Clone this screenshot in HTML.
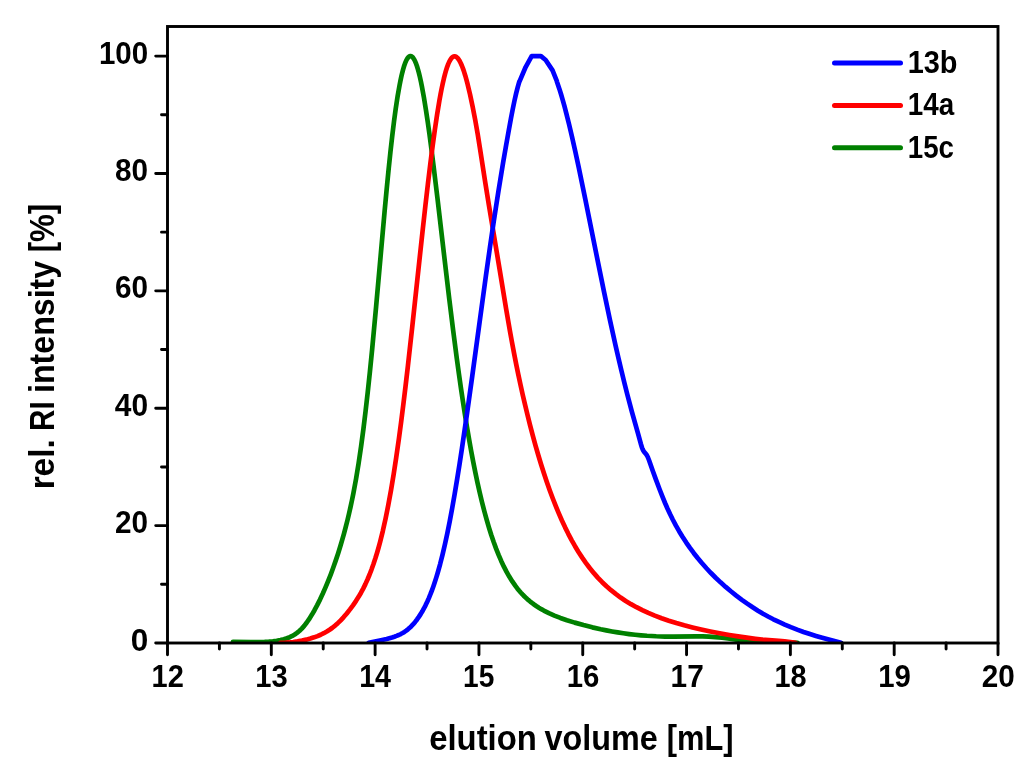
<!DOCTYPE html>
<html lang="en"><head><meta charset="utf-8"><title>GPC elution chart</title>
<style>html,body{margin:0;padding:0;background:#fff}body{width:1024px;height:771px;overflow:hidden}svg{display:block}</style></head>
<body>
<svg width="1024" height="771" viewBox="0 0 1024 771">
<rect width="1024" height="771" fill="#fff"/>
<defs><clipPath id="c"><rect x="167.5" y="26.5" width="830.5" height="616.5"/></clipPath></defs>
<g clip-path="url(#c)" fill="none" stroke-width="4.7" stroke-linejoin="round" stroke-linecap="round">
<path stroke="#008000" d="M233.00 641.80L250.90 642.17L255.80 642.19L260.10 642.14L264.70 641.96L268.90 641.68L272.90 641.28L276.70 640.74L280.40 640.05L283.80 639.23L286.90 638.27L289.70 637.19L292.30 635.94L294.70 634.53L297.00 632.92L299.30 631.02L301.80 628.59L304.20 625.87L306.60 622.77L309.10 619.15L311.80 614.86L314.50 610.20L317.20 605.17L320.00 599.58L322.70 593.81L325.40 587.67L328.10 581.16L330.70 574.52L333.20 567.77L335.70 560.64L338.10 553.39L340.40 546.03L342.20 539.95L344.00 533.55L345.70 527.18L347.40 520.46L349.00 513.77L350.50 507.14L352.00 500.12L353.40 493.18L356.10 478.59L358.60 463.39L361.10 446.40L363.50 428.32L365.60 411.09L367.70 392.54L369.90 371.75L372.10 349.69L376.10 306.83L384.50 212.43L386.60 189.95L388.50 170.55L390.40 152.27L392.20 136.19L394.00 121.48L395.70 108.94L397.60 96.47L399.50 85.60L400.50 80.52L401.40 76.34L402.30 72.55L403.20 69.13L404.20 65.80L405.10 63.22L406.00 61.03L406.90 59.24L407.80 57.85L408.70 56.87L409.10 56.56L409.60 56.28L410.00 56.15L410.50 56.09L410.90 56.14L411.40 56.30L411.80 56.52L412.30 56.91L413.20 57.90L414.20 59.46L415.10 61.27L416.10 63.71L417.00 66.30L418.00 69.59L418.90 72.93L419.90 77.04L420.90 81.56L421.90 86.47L423.90 97.38L426.00 110.28L427.70 121.66L429.50 134.51L431.40 148.84L433.50 165.43L437.40 197.75L445.60 268.06L449.30 299.20L453.20 330.78L456.80 358.43L458.90 373.78L460.90 387.83L463.00 401.97L465.00 414.85L467.00 427.16L469.10 439.48L471.10 450.64L473.20 461.76L475.30 472.29L477.50 482.70L479.70 492.51L481.90 501.72L484.20 510.74L486.50 519.17L488.80 527.04L491.20 534.68L493.60 541.76L496.10 548.59L498.60 554.89L501.20 560.92L503.90 566.65L506.60 571.88L509.40 576.82L512.30 581.46L515.60 586.19L517.30 588.42L519.00 590.51L520.70 592.48L522.50 594.44L524.30 596.27L526.20 598.09L528.20 599.88L530.20 601.55L532.30 603.20L534.40 604.73L536.60 606.24L538.90 607.72L541.30 609.16L543.80 610.55L548.90 613.14L554.40 615.58L560.40 617.93L566.90 620.20L574.70 622.62L583.50 625.09L592.30 627.34L600.70 629.27L606.30 630.42L612.00 631.49L617.70 632.44L623.40 633.30L629.20 634.06L635.10 634.72L641.00 635.29L647.00 635.76L656.20 636.27L665.20 636.53L673.60 636.56L696.00 636.37L702.70 636.45L708.80 636.67L715.50 637.09L722.10 637.72L727.90 638.46L741.20 640.38L747.50 641.22L754.00 641.96L759.90 642.47L764.40 642.72L768.90 642.84L773.90 642.84L788.70 642.65L793.30 642.72L797.50 642.90"/>
<path stroke="#ff0000" d="M280.50 642.80L284.60 642.73L288.80 642.47L293.20 642.01L297.60 641.39L302.00 640.59L306.20 639.65L310.30 638.56L314.10 637.36L317.50 636.11L320.70 634.74L323.80 633.22L326.80 631.54L329.60 629.75L332.40 627.75L335.10 625.58L337.80 623.18L340.70 620.33L343.70 617.09L346.80 613.45L350.00 609.40L353.00 605.32L355.90 601.08L358.60 596.81L361.00 592.70L363.20 588.59L365.40 584.13L367.50 579.50L369.50 574.73L371.50 569.57L373.40 564.27L375.30 558.55L377.10 552.70L378.60 547.49L380.00 542.33L382.80 531.08L385.60 518.51L388.30 505.07L391.00 490.26L393.60 474.66L396.20 457.73L398.90 438.74L401.10 422.22L403.30 404.83L405.50 386.61L407.90 365.90L412.20 327.15L422.80 228.94L425.50 204.74L427.90 183.96L430.40 163.28L432.70 145.34L434.90 129.31L437.10 114.55L439.40 100.62L440.60 94.02L441.70 88.39L442.80 83.18L443.90 78.41L445.00 74.08L446.10 70.21L447.20 66.81L448.20 64.13L449.20 61.85L450.30 59.81L451.30 58.37L451.80 57.80L452.40 57.24L452.90 56.88L453.50 56.58L454.00 56.43L454.60 56.37L455.10 56.42L455.60 56.57L456.60 57.13L457.60 58.04L458.70 59.44L459.70 61.06L460.80 63.21L461.90 65.74L463.00 68.62L464.10 71.84L465.30 75.73L466.40 79.61L467.60 84.18L470.00 94.26L472.60 106.44L475.20 119.87L477.70 134.19L480.00 148.52L485.40 183.37L488.90 205.09L499.80 270.49L506.20 309.28L510.00 331.41L512.00 342.44L514.10 353.55L516.20 364.21L518.30 374.45L520.50 384.75L522.70 394.65L525.00 404.59L527.40 414.56L530.10 425.31L532.80 435.58L535.60 445.77L538.40 455.48L541.20 464.73L544.00 473.54L546.90 482.22L549.80 490.46L552.80 498.54L555.80 506.19L558.80 513.43L561.90 520.49L565.10 527.35L568.30 533.81L571.60 540.07L574.90 545.93L578.50 551.92L582.20 557.64L586.00 563.09L589.90 568.27L593.90 573.18L598.00 577.82L602.20 582.18L606.50 586.27L611.00 590.20L615.70 593.95L620.60 597.53L625.70 600.92L631.00 604.14L636.50 607.19L642.30 610.12L648.30 612.89L654.80 615.61L661.60 618.20L668.80 620.69L676.30 623.04L684.20 625.30L692.50 627.45L701.20 629.50L710.40 631.47L719.60 633.26L729.30 634.98L739.70 636.67L748.50 637.95L755.40 638.81L762.00 639.51L778.80 640.83L784.60 641.37L790.30 642.06L795.50 642.90"/>
<path stroke="#0000ff" d="M368.75 642.80L380.95 640.25L386.65 638.95L392.05 637.47L394.35 636.72L396.55 635.91L398.75 635.00L400.75 634.05L402.65 633.02L404.45 631.91L406.25 630.65L407.95 629.32L409.65 627.83L411.35 626.19L413.25 624.16L415.15 621.91L417.05 619.45L418.85 616.90L420.65 614.12L422.35 611.28L424.05 608.20L425.65 605.08L427.25 601.72L428.85 598.10L430.35 594.47L431.85 590.59L433.35 586.44L434.75 582.32L436.25 577.63L437.65 572.98L440.15 564.02L442.55 554.58L444.95 544.30L447.35 533.17L449.75 521.17L452.15 508.35L454.65 494.13L457.25 478.50L459.55 464.02L461.95 448.35L467.15 412.69L472.25 376.06L485.85 276.28L489.95 247.26L493.75 221.41L498.45 191.04L503.15 162.46L505.75 147.36L508.55 131.59L511.05 117.93L512.95 108.07L514.55 100.38L516.15 93.39L517.75 87.10L519.35 81.49L519.45 81.68L525.65 67.01L531.55 56.29L531.65 56.20L540.95 56.20L545.65 59.98L552.55 70.38L556.85 81.17L556.95 81.76L559.45 89.13L561.05 94.28L562.75 100.10L564.45 106.24L566.25 113.07L569.05 124.30L572.05 137.04L575.25 151.29L578.65 167.04L585.15 198.42L598.25 263.56L604.05 291.96L610.05 320.43L615.55 345.43L618.55 358.54L621.45 370.83L624.35 382.73L627.25 394.22L632.05 412.31L638.12 433.88L640.87 443.94L642.04 447.72L642.53 449.00L643.11 450.24L644.03 451.69L645.99 454.05L646.66 454.98L647.33 456.13L647.97 457.51L649.22 460.75L652.72 470.75L655.67 478.84L659.65 489.47L662.55 496.93L665.05 503.00L667.55 508.70L670.15 514.28L672.85 519.73L675.95 525.59L679.25 531.42L682.65 537.02L686.25 542.58L689.95 547.92L693.85 553.20L697.85 558.29L702.05 563.31L706.45 568.26L710.95 573.03L715.65 577.73L720.55 582.35L725.65 586.90L730.85 591.28L736.25 595.59L741.85 599.81L747.25 603.66L752.65 607.31L757.95 610.70L763.05 613.75L768.05 616.53L773.35 619.27L778.95 621.96L784.75 624.57L790.85 627.13L797.15 629.60L803.55 631.93L809.95 634.10L815.95 635.99L822.25 637.83L840.95 642.89"/>
</g>
<g stroke="#000" stroke-width="2.9" fill="none">
<rect x="167.5" y="26.5" width="830.5" height="616.5"/>
<path stroke-linecap="round" d="M167.50 643.0V654.8M271.31 643.0V654.8M375.12 643.0V654.8M478.94 643.0V654.8M582.75 643.0V654.8M686.56 643.0V654.8M790.38 643.0V654.8M894.19 643.0V654.8M998.00 643.0V654.8M219.41 643.0V649.0M323.22 643.0V649.0M427.03 643.0V649.0M530.84 643.0V649.0M634.66 643.0V649.0M738.47 643.0V649.0M842.28 643.0V649.0M946.09 643.0V649.0M167.5 643.00H155.7M167.5 525.62H155.7M167.5 408.24H155.7M167.5 290.86H155.7M167.5 173.48H155.7M167.5 56.10H155.7M167.5 584.31H161.5M167.5 466.93H161.5M167.5 349.55H161.5M167.5 232.17H161.5M167.5 114.79H161.5"/>
</g>
<g font-family="'Liberation Sans', sans-serif" font-weight="bold" fill="#000">
<g font-size="31.0">
<text x="151.54" y="686.8" textLength="32.24" lengthAdjust="spacingAndGlyphs">12</text>
<text x="255.34" y="686.8" textLength="32.44" lengthAdjust="spacingAndGlyphs">13</text>
<text x="359.19" y="686.8" textLength="31.85" lengthAdjust="spacingAndGlyphs">14</text>
<text x="463.04" y="686.8" textLength="31.24" lengthAdjust="spacingAndGlyphs">15</text>
<text x="566.77" y="686.8" textLength="32.62" lengthAdjust="spacingAndGlyphs">16</text>
<text x="670.55" y="686.8" textLength="33.17" lengthAdjust="spacingAndGlyphs">17</text>
<text x="774.43" y="686.8" textLength="32.10" lengthAdjust="spacingAndGlyphs">18</text>
<text x="878.21" y="686.8" textLength="32.62" lengthAdjust="spacingAndGlyphs">19</text>
<text x="981.76" y="686.8" textLength="33.04" lengthAdjust="spacingAndGlyphs">20</text>
<text x="130.66" y="650.5" textLength="17.53" lengthAdjust="spacingAndGlyphs">0</text>
<text x="115.04" y="533.1" textLength="33.04" lengthAdjust="spacingAndGlyphs">20</text>
<text x="114.82" y="415.7" textLength="33.26" lengthAdjust="spacingAndGlyphs">40</text>
<text x="115.04" y="298.4" textLength="33.04" lengthAdjust="spacingAndGlyphs">60</text>
<text x="115.02" y="181.0" textLength="33.05" lengthAdjust="spacingAndGlyphs">80</text>
<text x="98.96" y="63.6" textLength="49.26" lengthAdjust="spacingAndGlyphs">100</text>
<text x="907.67" y="72.7" textLength="49.81" lengthAdjust="spacingAndGlyphs">13b</text>
<text x="907.75" y="115.1" textLength="46.38" lengthAdjust="spacingAndGlyphs">14a</text>
<text x="907.75" y="157.5" textLength="46.21" lengthAdjust="spacingAndGlyphs">15c</text>
</g>
<g font-size="34.2">
<text y="750.4"><tspan x="429.19" textLength="107.64" lengthAdjust="spacingAndGlyphs">elution</tspan> <tspan x="544.53" textLength="113.22" lengthAdjust="spacingAndGlyphs">volume</tspan> <tspan x="666.79" textLength="66.76" lengthAdjust="spacingAndGlyphs">[mL]</tspan></text>
<text transform="translate(54.2 346) rotate(-90)" y="0"><tspan x="-143.35" textLength="50.03" lengthAdjust="spacingAndGlyphs">rel.</tspan> <tspan x="-85.03" textLength="29.67" lengthAdjust="spacingAndGlyphs">RI</tspan> <tspan x="-46.91" textLength="132.01" lengthAdjust="spacingAndGlyphs">intensity</tspan> <tspan x="93.69" textLength="48.54" lengthAdjust="spacingAndGlyphs">[%]</tspan></text>
</g>
</g>
<g stroke-width="5" stroke-linecap="round">
<line x1="834.5" x2="900.5" y1="63.0" y2="63.0" stroke="#0000ff"/>
<line x1="834.5" x2="900.5" y1="105.4" y2="105.4" stroke="#ff0000"/>
<line x1="834.5" x2="900.5" y1="147.8" y2="147.8" stroke="#008000"/>
</g>
</svg>
</body></html>
